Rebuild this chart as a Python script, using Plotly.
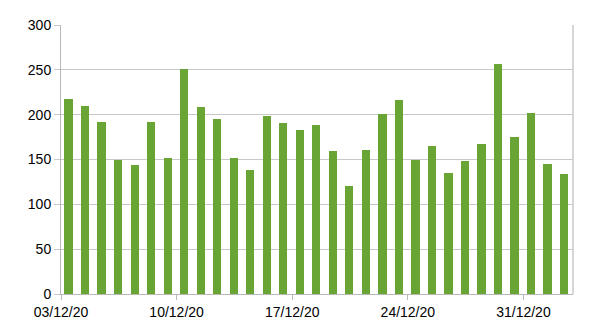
import plotly.graph_objects as go
import pandas as pd

dates = pd.date_range("2020-12-03", periods=31, freq="D")
values = [217, 210, 192, 150, 144, 192, 152, 251, 208, 195, 152, 138, 199, 191, 183, 189,
          160, 121, 161, 201, 216, 149, 165, 135, 148, 167, 256, 175, 202, 145, 134]
tick_dates = ["2020-12-03", "2020-12-10", "2020-12-17", "2020-12-24", "2020-12-31"]
tick_labels = ["03/12/20", "10/12/20", "17/12/20", "24/12/20", "31/12/20"]

x_centers = dates + pd.Timedelta(hours=11)

fig = go.Figure(go.Bar(
    x=x_centers, y=values,
    width=0.5 * 86400000,
    marker=dict(color="#69a534", line=dict(width=0)),
))

fig.update_layout(
    width=602, height=333,
    margin=dict(l=61, r=29, t=25, b=39),
    paper_bgcolor="white", plot_bgcolor="white",
    font=dict(family="Liberation Sans, Arial, sans-serif", size=14, color="black"),
    showlegend=False,
    bargap=0,
)
fig.update_xaxes(
    type="date",
    range=["2020-12-03", "2021-01-03"],
    tickvals=tick_dates, ticktext=tick_labels,
    showgrid=False,
    showline=True, linecolor="#b8b8b8", linewidth=1,
    ticks="outside", ticklen=5, tickcolor="#b8b8b8",
    mirror=False,
)
fig.update_yaxes(
    range=[0, 300], tickvals=[0, 50, 100, 150, 200, 250, 300],
    showgrid=True, gridcolor="#c8c8c8", gridwidth=1,
    showline=True, linecolor="#b8b8b8", linewidth=1,
    ticks="outside", ticklen=6, tickcolor="#c8c8c8",
    zeroline=False,
)
fig.add_shape(type="line", xref="paper", yref="paper", x0=1, x1=1, y0=0, y1=1,
              line=dict(color="#c8c8c8", width=1.5))

fig.write_html("out.html")
